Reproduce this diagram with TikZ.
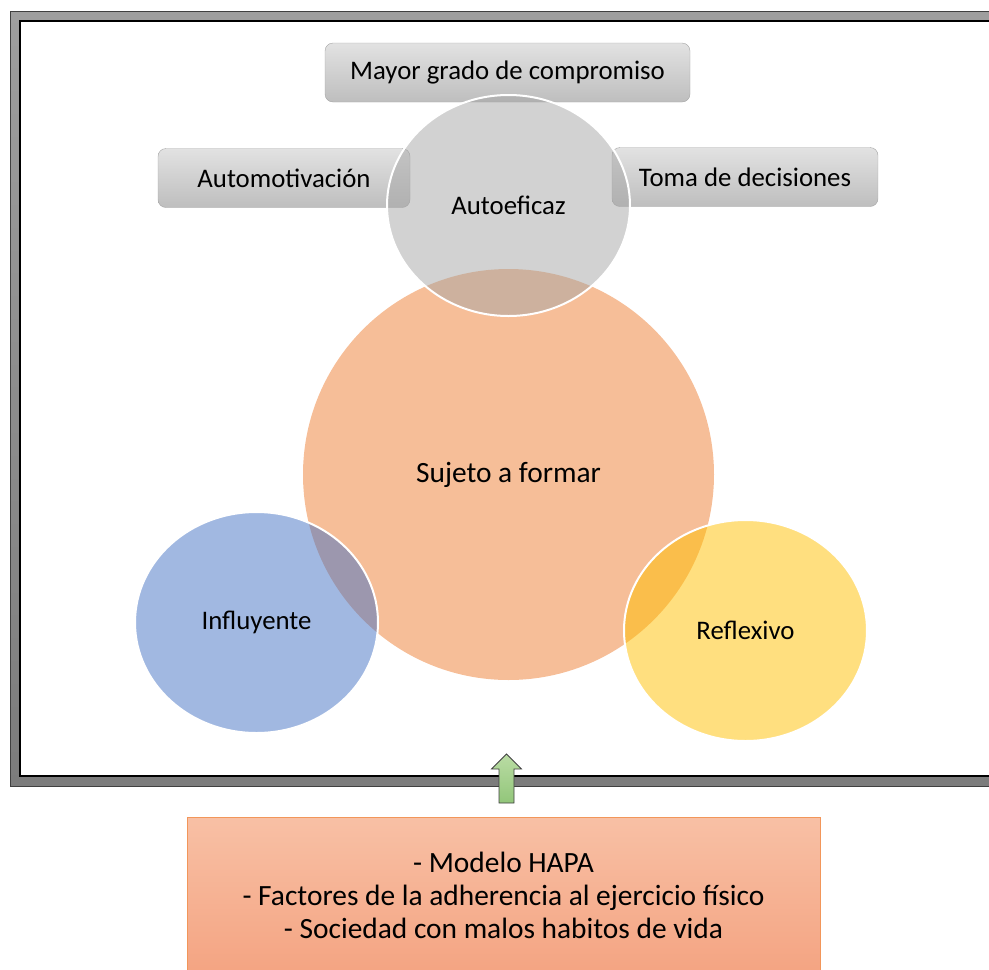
\documentclass[tikz,border=0pt]{standalone}
\usepackage{fontspec}
\setmainfont{Carlito}
\usetikzlibrary{shapes.geometric}
\usetikzlibrary{positioning}

\definecolor{framelight}{RGB}{158,158,158}
\definecolor{framedark}{RGB}{124,124,124}
\definecolor{boxtop}{RGB}{226,226,226}
\definecolor{boxbot}{RGB}{190,190,190}
\definecolor{boxline}{RGB}{165,165,165}
\definecolor{accorange}{RGB}{237,125,49}
\definecolor{accgray}{RGB}{165,165,165}
\definecolor{accblue}{RGB}{68,114,196}
\definecolor{accyellow}{RGB}{255,192,0}
\definecolor{srctop}{RGB}{248,192,165}
\definecolor{srcbot}{RGB}{244,164,130}
\definecolor{srcline}{RGB}{242,150,90}
\definecolor{arrowtop}{RGB}{186,220,164}
\definecolor{arrowbot}{RGB}{146,198,122}

\begin{document}
\begin{tikzpicture}[x=1pt,y=-1pt,
  txt/.style={font=\fontsize{26.8}{30}\selectfont},
  bigtxt/.style={font=\fontsize{29.4}{33}\selectfont},
  grisbox/.style={txt, draw=boxline, top color=boxtop, bottom color=boxbot, rounded corners=8pt, minimum height=59pt, inner sep=0pt},
  bola/.style={txt, ellipse, draw=white, line width=2pt, fill opacity=0.5, text opacity=1, minimum width=243pt, minimum height=221pt, inner sep=0pt},
  flecha/.style={draw=black!75, line width=0.8pt, top color=arrowtop, bottom color=arrowbot}
]
\useasboundingbox (0,0) rectangle (989,970);

	%frame
 \path[top color=framelight, bottom color=framedark, even odd rule] (10,11) rectangle (1000,786) (20,21) rectangle (990,776);
 \draw[black!75, line width=1pt] (10,11) rectangle (1000,786);
 \draw[black, line width=1.3pt] (20,21) rectangle (990,776);

%gray boxes
    \foreach \x/\y/\w/\name/\texto in {507.5/72.5/365/mayor/Mayor grado de compromiso, 284/178/252/automot/Automotivación, 745/177/266/toma/Toma de decisiones}{
         \node[grisbox, minimum width=\w pt] (\name) at (\x,\y) {\texto};
    }

%center
 \node[bigtxt, circle, fill=accorange, fill opacity=0.5, text opacity=1, minimum size=411pt, inner sep=0pt] (sujeto) at (508.5,474.5) {Sujeto a formar};

%small circles
    \foreach \x/\y/\name/\texto/\col in {508.5/205.5/autoef/Autoeficaz/accgray, 256.5/622.5/influ/Influyente/accblue, 745.5/630.5/reflex/Reflexivo/accyellow}{
         \node[bola, fill=\col] (\name) at (\x,\y) {\texto};
    }

%bottom box
 \node[bigtxt, draw=srcline, line width=1pt, top color=srctop, bottom color=srcbot, minimum width=633pt, minimum height=156pt, align=center, inner sep=0pt] (fuentes) at (503.5,895)
   {- Modelo HAPA\\- Factores de la adherencia al ejercicio físico\\- Sociedad con malos habitos de vida};

%arrow
 \def\ax{506.5};
 \draw[flecha] (\ax-7.5,803) -- (\ax-7.5,769) -- (\ax-15,769) -- (\ax,754) -- (\ax+15,769) -- (\ax+7.5,769) -- (\ax+7.5,803) -- cycle;

\end{tikzpicture}
\end{document}
